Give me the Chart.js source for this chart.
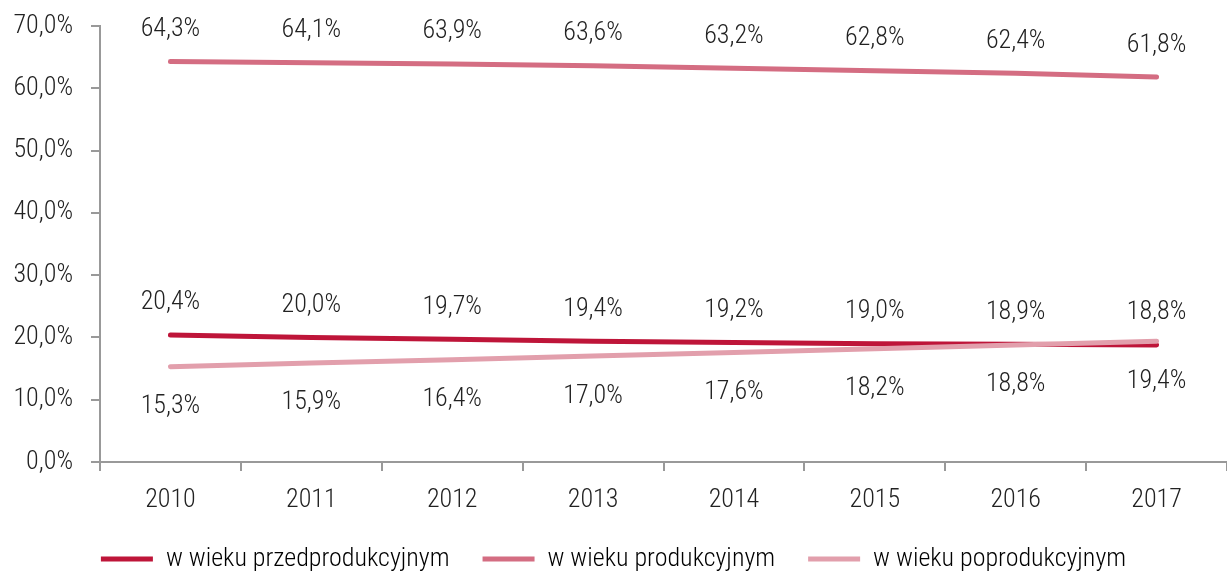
<!DOCTYPE html>
<html><head><meta charset="utf-8">
<script src="https://cdn.jsdelivr.net/npm/chart.js@4/dist/chart.umd.min.js"></script>
<style>html,body{margin:0;padding:0;background:#fff}#wrap{width:1227px;height:571px}</style>
</head><body><div id="wrap"><canvas id="c" width="1227" height="571"></canvas></div>
<script>
const categories = ['2010','2011','2012','2013','2014','2015','2016','2017'];
const preProd = [20.4,20.0,19.7,19.4,19.2,19.0,18.9,18.8];
const prod = [64.3,64.1,63.9,63.6,63.2,62.8,62.4,61.8];
const postProd = [15.3,15.9,16.4,17.0,17.6,18.2,18.8,19.4];
const seriesNames = ['w wieku przedprodukcyjnym','w wieku produkcyjnym','w wieku poprodukcyjnym'];
const yTicks = [0,10,20,30,40,50,60,70];

const FONT = "'Roboto Condensed','Liberation Sans Narrow','DejaVu Sans Condensed','Arial Narrow',sans-serif";
const FS = 26;
const FW = 300;
const fmt = v => v.toFixed(1).replace('.', ',') + '%';

const labelPlugin = {
  id: 'valLabels',
  afterDatasetsDraw(chart) {
    const ctx = chart.ctx;
    ctx.save();
    ctx.font = FW + ' ' + FS + 'px ' + FONT;
    ctx.fillStyle = '#222';
    ctx.textAlign = 'center';
    ctx.textBaseline = 'middle';
    chart.data.datasets.forEach((ds, i) => {
      const meta = chart.getDatasetMeta(i);
      meta.data.forEach((pt, j) => {
        const off = ds.labelPos === 'below' ? 40 : -32;
        ctx.fillText(fmt(ds.data[j]), pt.x, pt.y + off);
      });
    });
    ctx.restore();
  }
};

const legendShift = {
  id: 'legendShift',
  afterLayout(chart) {
    const lg = chart.legend;
    if (lg) { lg.top += 1; lg.bottom += 1; }
  }
};

new Chart(document.getElementById('c'), {
  type: 'line',
  data: {
    labels: categories,
    datasets: [
      {label: seriesNames[0], data: preProd, borderColor: '#BE1539', backgroundColor: '#BE1539', order: 3, labelPos: 'above'},
      {label: seriesNames[1], data: prod, borderColor: '#D46D82', backgroundColor: '#D46D82', order: 2, labelPos: 'above'},
      {label: seriesNames[2], data: postProd, borderColor: '#E29FAC', backgroundColor: '#E29FAC', order: 1, labelPos: 'below'}
    ].map(d => Object.assign(d, {borderWidth: 5, pointRadius: 0, borderCapStyle: 'round', tension: 0, fill: false}))
  },
  options: {
    responsive: false,
    animation: false,
    layout: {padding: {top: 26, right: 0, left: 0, bottom: -10}},
    plugins: {
      tooltip: {enabled: false},
      legend: {
        position: 'bottom',
        labels: {
          font: {family: FONT, size: FS, weight: FW},
          color: '#222',
          boxWidth: 52,
          boxHeight: 5,
          padding: 33,
          sort: (a, b) => a.datasetIndex - b.datasetIndex,
          generateLabels(chart) {
            return chart.data.datasets.map((ds, i) => ({
              text: ds.label, fillStyle: ds.borderColor, strokeStyle: ds.borderColor,
              lineWidth: 0, datasetIndex: i, hidden: false
            }));
          }
        }
      }
    },
    scales: {
      x: {
        offset: true,
        afterFit: s => { s.height = 50; s.paddingLeft = 0; s.paddingRight = 0; },
        grid: {offset: true, drawOnChartArea: false, color: '#999', lineWidth: 2, tickLength: 9},
        border: {color: '#999', width: 2},
        ticks: {font: {family: FONT, size: FS, weight: FW}, color: '#222', padding: 14}
      },
      y: {
        min: 0, max: 70,
        afterBuildTicks: s => { s.ticks = yTicks.map(v => ({value: v})); },
        afterFit: s => { s.width = 100; s.paddingTop = 0; s.paddingBottom = 0; },
        grid: {drawOnChartArea: false, color: '#999', lineWidth: 2, tickLength: 9},
        border: {color: '#999', width: 2},
        ticks: {font: {family: FONT, size: FS, weight: FW}, color: '#222', padding: 18, callback: v => fmt(v)}
      }
    }
  },
  plugins: [labelPlugin, legendShift]
});
</script></body></html>
